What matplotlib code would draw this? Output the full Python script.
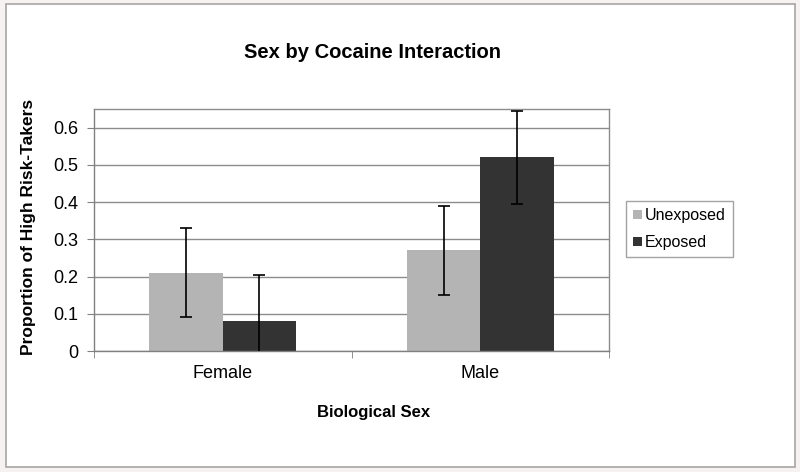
import matplotlib
matplotlib.use("Agg")
from matplotlib import pyplot as plt
from matplotlib.patches import Rectangle
import numpy as np

plt.rcParams['font.family'] = ['Liberation Sans', 'DejaVu Sans']

categories = ["Female", "Male"]
series = ["Unexposed", "Exposed"]
unexposed = [0.21, 0.27]
exposed = [0.08, 0.52]
unexposed_err = [0.12, 0.12]
exposed_err = [0.125, 0.125]
colors = ["#b4b4b4", "#333333"]

fig = plt.figure(figsize=(8, 4.72), dpi=100)
fig.patch.set_facecolor("#f6f2f2")
# white panel with gray border
fig.patches.append(Rectangle((5.5 / 800, 1 - 467 / 472), 789 / 800, 463 / 472,
                             transform=fig.transFigure, facecolor="white",
                             edgecolor="#a8a4a4", linewidth=1.2, zorder=-1))

ax = fig.add_axes([94 / 800, 1 - 351 / 472, 515 / 800, 242 / 472])
x = np.arange(len(categories))
w = 0.285
ax.bar(x - w / 2, unexposed, w, color=colors[0], label=series[0], zorder=2)
ax.bar(x + w / 2, exposed, w, color=colors[1], label=series[1], zorder=2)
ax.errorbar(x - w / 2, unexposed, yerr=unexposed_err, fmt="none", ecolor="black",
            elinewidth=1.2, capsize=4, capthick=1.2, zorder=3)
ax.errorbar(x + w / 2, exposed, yerr=exposed_err, fmt="none", ecolor="black",
            elinewidth=1.2, capsize=4, capthick=1.2, zorder=3)

ax.set_xlim(-0.5, 1.5)
ax.set_ylim(0, 0.65)
ax.set_yticks([0, 0.1, 0.2, 0.3, 0.4, 0.5, 0.6])
ax.set_yticklabels(["0", "0.1", "0.2", "0.3", "0.4", "0.5", "0.6"])
ax.set_xticks(x)
ax.set_xticklabels(categories)
ax.set_xticks([-0.5, 0.5, 1.5], minor=True)
ax.tick_params(axis="x", which="major", length=0, labelsize=13, pad=10)
ax.tick_params(axis="x", which="minor", length=5, color="#808080", direction="out")
ax.tick_params(axis="y", length=5, color="#808080", labelsize=13, pad=6)
ax.yaxis.grid(True, color="#8c8c8c", linewidth=1, zorder=0)
ax.set_axisbelow(True)
for s in ax.spines.values():
    s.set_color("#8c8c8c")
    s.set_linewidth(1)
ax.spines["left"].set_color("#808080")
ax.spines["bottom"].set_color("#808080")

fig.text(372 / 800, 1 - 52 / 472, "Sex by Cocaine Interaction", ha="center",
         va="center", fontsize=14.5, fontweight="bold")
fig.text(29 / 800, 1 - 227 / 472, "Proportion of High Risk-Takers", ha="center",
         va="center", rotation=90, fontsize=12.5, fontweight="bold")
fig.text(374 / 800, 1 - 413 / 472, "Biological Sex", ha="center", va="center",
         fontsize=12, fontweight="bold")

leg = fig.legend(loc="upper left", bbox_to_anchor=(626 / 800, 1 - 201 / 472),
                 fontsize=11.5, frameon=True, fancybox=False, handlelength=0.55,
                 handleheight=0.55, handletextpad=0.2, borderpad=0.45,
                 labelspacing=0.75, borderaxespad=0)
leg.get_frame().set_edgecolor("#8c8c8c")
leg.get_frame().set_linewidth(1)

fig.savefig("out.png", dpi=100, facecolor=fig.get_facecolor())
